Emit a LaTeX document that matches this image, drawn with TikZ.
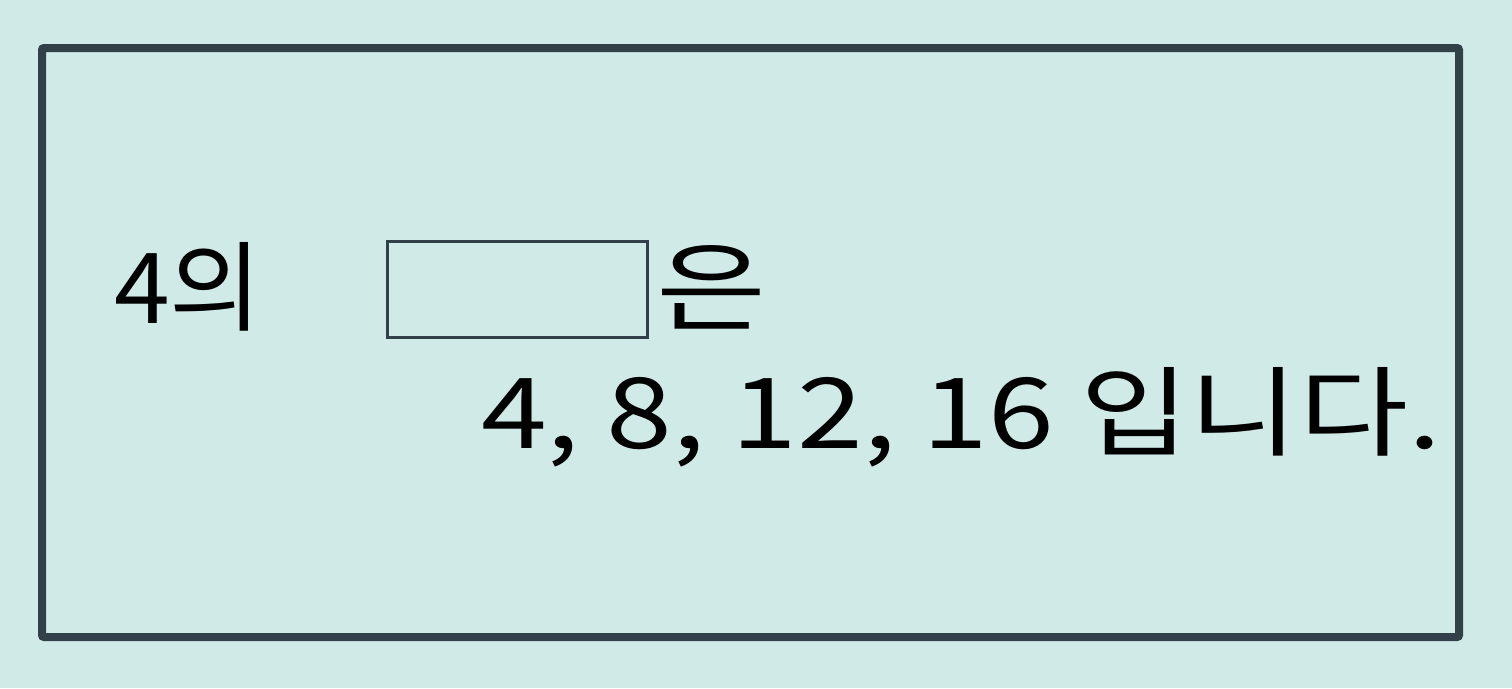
\documentclass[tikz,border=0pt]{standalone}
\usepackage{fontspec}
\usepackage{graphicx}
\newfontfamily\kr{Noto Sans CJK KR}
\definecolor{bgteal}{RGB}{208,235,231}
\definecolor{framec}{RGB}{50,64,74}
\tikzset{
  txt/.style={anchor=base west, inner sep=0pt, outer sep=0pt, font=\kr\fontsize{98}{110}\selectfont},
  blankbox/.style={draw=framec, line width=3pt, inner sep=0pt, minimum width=260pt, minimum height=96pt},
}
\begin{document}
\begin{tikzpicture}[x=1pt,y=-1pt]
\fill[bgteal] (0,0) rectangle (1512,688);
\useasboundingbox (0,0) rectangle (1512,688);
\draw[framec, line width=8pt, rounded corners=2pt] (42,48) rectangle (1459,637);
\node[blankbox] (blank) at (517,289) {};
\node[txt] (a) at (114,323) {\resizebox{148pt}{\height}{4의}};
\node[txt] (b) at (656,323) {\resizebox{110pt}{\height}{은}};
\node[txt] (c) at (481,448) {\resizebox{960pt}{\height}{4, 8, 12, 16 입니다.}};
\end{tikzpicture}
\end{document}
